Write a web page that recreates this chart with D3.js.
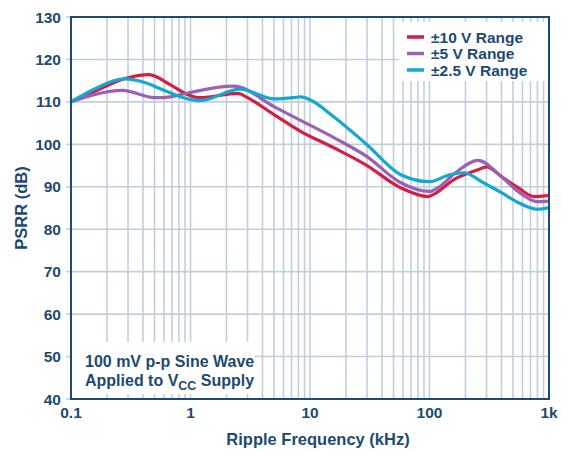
<!DOCTYPE html>
<html lang="en">
<head>
    <meta charset="UTF-8">
    <title>PSRR vs Ripple Frequency</title>
    <script src="https://d3js.org/d3.v7.min.js"></script>
    <style>
        body { margin: 0; background: #fff; font-family: "Liberation Sans", Arial, sans-serif; }
        .lbl { fill: #1d4a70; font-weight: bold; }
        .grid line { stroke: #c3cedb; stroke-width: 1.6; }
    </style>
</head>
<body>
    <div id="chart"></div>
    <script>
        // frequency in kHz, PSRR in dB
        const freq10 = [0.1, 0.156, 0.3, 0.45, 0.68, 0.95, 1.2, 2.5, 3, 5, 8.4, 15.8, 30, 57, 97, 108, 160, 255, 300, 400, 550, 750, 1000];
        const psrr10 = [110, 112.4, 115.7, 116.4, 114, 111.7, 111, 112, 111, 107, 103, 99.2, 95, 89.8, 87.7, 88.2, 91.7, 94, 94.7, 92.4, 89.8, 87.7, 87.9];

        const freq5 = [0.1, 0.156, 0.27, 0.5, 0.68, 0.95, 2.3, 5, 8.4, 15.8, 30, 57, 100, 118, 165, 255, 400, 550, 800, 1000];
        const psrr5 = [110, 111.7, 112.7, 111, 111.2, 112.1, 113.7, 108.9, 105.6, 101.6, 97.1, 91, 88.9, 89.8, 93.3, 96.2, 92.4, 88.9, 86.5, 86.6];

        const freq25 = [0.1, 0.156, 0.28, 0.42, 0.57, 0.95, 1.2, 2.6, 5, 7.3, 8.4, 10, 15.8, 30, 57, 100, 150, 195, 280, 400, 550, 800, 1000];
        const psrr25 = [110, 113, 115.4, 114.5, 113, 110.7, 110.3, 113, 110.7, 111, 111.2, 110.5, 106.5, 99.9, 92.9, 91.2, 92.9, 93.3, 91, 88.6, 86.3, 84.7, 85.1];

        const seriesNames = ["±10 V Range", "±5 V Range", "±2.5 V Range"];
        const seriesColors = ["#d21f43", "#9c61b5", "#12a8cf"];
        const yTicks = [40, 50, 60, 70, 80, 90, 100, 110, 120, 130];
        const xTicks = [0.1, 1, 10, 100, 1000];
        const xTickLabels = ["0.1", "1", "10", "100", "1k"];

        const series = [
            freq10.map((f, i) => [f, psrr10[i]]),
            freq5.map((f, i) => [f, psrr5[i]]),
            freq25.map((f, i) => [f, psrr25[i]])
        ];

        const width = 562, height = 451;
        const m = { left: 71, right: 13, top: 17, bottom: 52 };

        const svg = d3.select("#chart").append("svg")
            .attr("width", width).attr("height", height);

        const x = d3.scaleLog().domain([0.1, 1000]).range([m.left, width - m.right]);
        const y = d3.scaleLinear().domain([40, 130]).range([height - m.bottom, m.top]);

        // minor + major vertical positions (1..9 per decade)
        const vLines = [];
        [0.1, 1, 10, 100].forEach(d => {
            for (let k = 1; k <= 9; k++) vLines.push(d * k);
        });
        const inner = vLines.slice(1);

        const grid = svg.append("g").attr("class", "grid");
        grid.selectAll("line.v").data(inner).enter().append("line").attr("class", "v")
            .attr("x1", d => x(d)).attr("x2", d => x(d))
            .attr("y1", y(130)).attr("y2", y(40));
        grid.selectAll("line.h").data(yTicks.slice(1, -1)).enter().append("line").attr("class", "h")
            .attr("x1", x(0.1)).attr("x2", x(1000))
            .attr("y1", d => y(d)).attr("y2", d => y(d));

        // left outside tick stubs
        grid.selectAll("line.yt").data(yTicks).enter().append("line").attr("class", "yt")
            .attr("x1", x(0.1) - 5).attr("x2", x(0.1))
            .attr("y1", d => y(d)).attr("y2", d => y(d));

        // curves
        const line = d3.line()
            .x(d => x(d[0])).y(d => y(d[1]))
            .curve(d3.curveMonotoneX);

        svg.selectAll("path.series").data(series).enter().append("path")
            .attr("class", "series")
            .attr("fill", "none")
            .attr("stroke", (d, i) => seriesColors[i])
            .attr("stroke-width", 3.2)
            .attr("stroke-linejoin", "round")
            .attr("d", line);

        // legend box (white, over grid)
        const lx = 399, ly = y(130), lw = x(1000) - 399, lh = 64;
        svg.append("rect").attr("x", lx).attr("y", ly).attr("width", lw).attr("height", lh).attr("fill", "#fff");
        // annotation box
        const ax = x(0.1), ay = 342, aw = 184, ah = y(40) - 342;
        svg.append("rect").attr("x", ax).attr("y", ay).attr("width", aw).attr("height", ah).attr("fill", "#fff");

        // short ticks inside boxes
        svg.append("g").attr("class", "grid").selectAll("line")
            .data(inner.filter(d => x(d) > lx && x(d) < lx + lw)).enter().append("line")
            .attr("x1", d => x(d)).attr("x2", d => x(d))
            .attr("y1", y(130)).attr("y2", y(130) + 5);
        svg.append("g").attr("class", "grid").selectAll("line")
            .data(inner.filter(d => x(d) > ax && x(d) < ax + aw)).enter().append("line")
            .attr("x1", d => x(d)).attr("x2", d => x(d))
            .attr("y1", y(40)).attr("y2", y(40) - 5);

        // frame
        svg.append("rect")
            .attr("x", x(0.1)).attr("y", y(130))
            .attr("width", x(1000) - x(0.1)).attr("height", y(40) - y(130))
            .attr("fill", "none").attr("stroke", "#1d4a70").attr("stroke-width", 2);

        // legend
        const leg = svg.append("g");
        seriesNames.forEach((n, i) => {
            const yy = 37 + i * 16.5;
            leg.append("line").attr("x1", 407).attr("x2", 424).attr("y1", yy).attr("y2", yy)
                .attr("stroke", seriesColors[i]).attr("stroke-width", 3.5);
            leg.append("text").attr("class", "lbl").attr("x", 431).attr("y", yy + 5.5)
                .style("font-size", "15.5px").text(n);
        });

        // annotation text
        const ann = svg.append("text").attr("class", "lbl").style("font-size", "16px");
        ann.append("tspan").attr("x", 85).attr("y", 367).text("100 mV p-p Sine Wave");
        const t2 = ann.append("tspan").attr("x", 85).attr("y", 386);
        t2.text("Applied to V");
        t2.append("tspan").attr("dy", 4).style("font-size", "12.5px").text("CC");
        t2.append("tspan").attr("dy", -4).text(" Supply");

        // y tick labels
        svg.selectAll("text.ylab").data(yTicks).enter().append("text")
            .attr("class", "lbl ylab").attr("x", 61).attr("y", d => y(d) + 5.5)
            .attr("text-anchor", "end").style("font-size", "15.5px")
            .text(d => d);

        // x tick labels
        svg.selectAll("text.xlab").data(xTicks).enter().append("text")
            .attr("class", "lbl xlab").attr("x", d => x(d)).attr("y", 418)
            .attr("text-anchor", "middle").style("font-size", "15.5px")
            .text((d, i) => xTickLabels[i]);

        // axis titles
        svg.append("text").attr("class", "lbl")
            .attr("transform", `translate(27,${(y(40) + y(130)) / 2}) rotate(-90)`)
            .attr("text-anchor", "middle").style("font-size", "16.5px")
            .text("PSRR (dB)");
        svg.append("text").attr("class", "lbl")
            .attr("x", 318).attr("y", 445)
            .attr("text-anchor", "middle").style("font-size", "16.5px")
            .text("Ripple Frequency (kHz)");
    </script>
</body>
</html>
